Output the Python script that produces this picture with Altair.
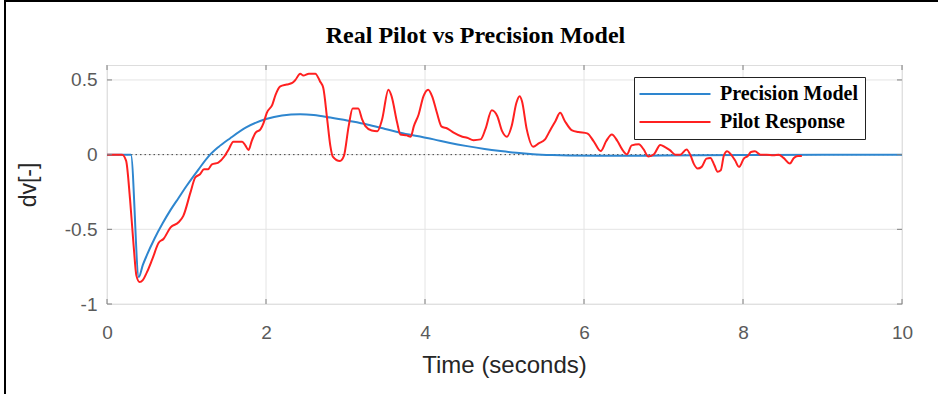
import altair as alt
import pandas as pd

# ---- data ----
model_t = [0, 0.30, 0.40, 0.45, 0.50, 0.60, 0.70, 0.80, 0.90, 1.00, 1.15, 1.28, 1.40, 1.55, 1.75, 2.00, 2.20,
           2.43, 2.60, 2.81, 3.05, 3.27, 3.50, 3.69, 3.90, 4.11, 4.30, 4.53, 4.75, 4.95, 5.15,
           5.36, 5.60, 5.80, 6.20, 7.00, 8.00, 9.00, 10.0]
model_v = [0, 0, -0.82, -0.74, -0.675, -0.56, -0.46, -0.37, -0.29, -0.21, -0.10, -0.01, 0.05, 0.11, 0.182, 0.238, 0.262,
           0.27, 0.265, 0.248, 0.225, 0.202, 0.172, 0.147, 0.124, 0.102, 0.08, 0.057, 0.038, 0.024, 0.012,
           0.003, -0.003, -0.006, -0.008, -0.006, -0.003, -0.001, 0.0]

pilot_t = [0, 0.19, 0.24, 0.29, 0.335, 0.37, 0.41, 0.45, 0.50, 0.57, 0.65, 0.71, 0.80, 0.90, 0.96,
           1.05, 1.11, 1.17, 1.22, 1.27, 1.32, 1.40, 1.48, 1.53, 1.59, 1.70, 1.74, 1.78, 1.82, 1.87,
           1.93, 1.97, 2.01, 2.08, 2.12, 2.18, 2.26, 2.33, 2.37, 2.43, 2.47, 2.54, 2.62, 2.68, 2.72,
           2.77, 2.81, 2.84, 2.93, 2.98, 3.04, 3.09, 3.16, 3.21, 3.25, 3.33, 3.40, 3.46, 3.54, 3.58,
           3.65, 3.69, 3.77, 3.82, 3.86, 3.92, 3.98, 4.04, 4.09, 4.15, 4.21, 4.28, 4.36, 4.47, 4.53,
           4.61, 4.70, 4.76, 4.84, 4.91, 4.97, 5.03, 5.09, 5.15, 5.19, 5.22, 5.28, 5.36, 5.43, 5.51,
           5.58, 5.64, 5.70, 5.76, 5.85, 5.93, 6.04, 6.12, 6.21, 6.28, 6.35, 6.42, 6.48, 6.54, 6.60,
           6.69, 6.75, 6.81, 6.88, 6.96, 7.02, 7.08, 7.15, 7.21, 7.29, 7.34, 7.38, 7.43, 7.48, 7.54,
           7.59, 7.64, 7.68, 7.72, 7.76, 7.80, 7.85, 7.90, 7.95, 8.01, 8.06, 8.10, 8.15, 8.22, 8.30,
           8.38, 8.45, 8.51, 8.59, 8.64, 8.69, 8.74]
pilot_v = [0, 0, -0.04, -0.30, -0.61, -0.81, -0.853, -0.84, -0.79, -0.70, -0.59, -0.565, -0.487, -0.453, -0.41,
           -0.253, -0.153, -0.131, -0.098, -0.098, -0.065, -0.053, -0.009, 0.035, 0.087, 0.087, 0.062, 0.031, 0.091, 0.147,
           0.169, 0.213, 0.28, 0.335, 0.40, 0.457, 0.469, 0.48, 0.50, 0.542, 0.529, 0.542, 0.542, 0.49, 0.447,
           0.235, 0.057, -0.013, -0.043, -0.009, 0.191, 0.309, 0.309, 0.235, 0.191, 0.162, 0.157, 0.235, 0.435, 0.39,
           0.213, 0.135, 0.129, 0.12, 0.191, 0.269, 0.39, 0.435, 0.39, 0.28, 0.187, 0.175, 0.147, 0.12, 0.113,
           0.097, 0.102, 0.17, 0.297, 0.257, 0.157, 0.12, 0.191, 0.347, 0.39, 0.357, 0.169, 0.053, 0.075, 0.102,
           0.169, 0.224, 0.28, 0.224, 0.162, 0.151, 0.142, 0.091, 0.024, 0.091, 0.135, 0.091, 0.035, 0.002, 0.062,
           0.069, 0.035, -0.013, 0.002, 0.065, 0.05, 0.03, 0.0, 0.0, 0.035, -0.005, -0.06, -0.093, -0.082, -0.027,
           -0.022, -0.071, -0.115, -0.105, -0.005, 0.022, 0.0, -0.038, -0.082, -0.027, -0.009, 0.018, 0.022, 0.0, 0.0,
           -0.005, 0.0, -0.022, -0.06, -0.022, -0.009, -0.009]

series_names = ["Precision Model", "Pilot Response"]
series_colors = ["#2e86cf", "#ff2020"]
x_ticks = [0, 2, 4, 6, 8, 10]
y_ticks = [-1, -0.5, 0, 0.5]
zero_level = [0]

W, H = 795, 239

model_df = pd.DataFrame({"t": model_t, "v": model_v, "series": series_names[0]})
pilot_df = pd.DataFrame({"t": pilot_t, "v": pilot_v, "series": series_names[1]})
xt = pd.DataFrame({"t": x_ticks})
yt = pd.DataFrame({"v": y_ticks})
zd = pd.DataFrame({"v": zero_level})
one = pd.DataFrame({"a": [0]})

xscale = alt.Scale(domain=[0, 10], nice=False, zero=False)
yscale = alt.Scale(domain=[-1, 0.6], nice=False, zero=False)

ax_x = alt.Axis(values=x_ticks, title="Time (seconds)", grid=False, ticks=False, tickSize=0,
                domain=False, labelPadding=34, labelBaseline="alphabetic", labelFontSize=19,
                labelFont="Liberation Sans", labelColor="#5a5a5a", titleFont="Liberation Sans",
                titleFontSize=24, titleFontWeight="normal", titleColor="#262626",
                titleX=397, titleY=68, titleBaseline="alphabetic", titleAlign="center",
                labelFlush=False, labelExpr="'' + datum.value")
ax_y = alt.Axis(values=y_ticks, title="dv[-]", grid=False, ticks=False, tickSize=0,
                domain=False, labelPadding=10, labelFontSize=19, labelFont="Liberation Sans",
                labelColor="#5a5a5a", titleFont="Liberation Sans", titleFontSize=23,
                titleFontWeight="normal", titleColor="#262626", titleX=-79, titleY=H / 2,
                titleAngle=-90, titleBaseline="middle", titleAlign="center", labelFlush=False,
                labelExpr="'' + datum.value")

X = alt.X("t:Q", scale=xscale, axis=ax_x)
Y = alt.Y("v:Q", scale=yscale, axis=ax_y)

grid_x = alt.Chart(xt).mark_rule(color="#e4e4e4", strokeWidth=1).encode(x=X)
grid_y = alt.Chart(yt).mark_rule(color="#e4e4e4", strokeWidth=1).encode(y=Y)

tick_col = "#808080"
tx_b = alt.Chart(xt).mark_rule(color=tick_col).encode(x=X, y=alt.value(H - 5), y2=alt.value(H))
tx_t = alt.Chart(xt).mark_rule(color=tick_col).encode(x=X, y=alt.value(0), y2=alt.value(5))
ty_l = alt.Chart(yt).mark_rule(color=tick_col).encode(y=Y, x=alt.value(0), x2=alt.value(5))
ty_r = alt.Chart(yt).mark_rule(color=tick_col).encode(y=Y, x=alt.value(W - 5), x2=alt.value(W))

zero_line = alt.Chart(zd).mark_rule(color="#444444", strokeWidth=1, strokeDash=[1.5, 3]).encode(y=Y)

color = alt.Color("series:N", scale=alt.Scale(domain=series_names, range=series_colors),
                  legend=alt.Legend(title=None, orient="none", legendX=527, legendY=12,
                                    direction="vertical", symbolType="M-4,0H4", symbolSize=315,
                                    symbolStrokeWidth=2, symbolOffset=24,
                                    labelFont="Liberation Serif",
                                    labelFontWeight="bold", labelFontSize=20, labelColor="black",
                                    strokeColor="#222222", fillColor="white", padding=7,
                                    rowPadding=8, labelOffset=35))

model_line = alt.Chart(model_df).mark_line(strokeWidth=2, interpolate="monotone").encode(
    x=X, y=Y, color=color)
pilot_line = alt.Chart(pilot_df).mark_line(strokeWidth=2, interpolate="monotone").encode(
    x=X, y=Y, color=color)

frame_l = alt.Chart(one).mark_rule(color="black", strokeWidth=2).encode(
    x=alt.value(-102), y=alt.value(-65), y2=alt.value(394 - 65))
frame_t = alt.Chart(one).mark_rule(color="black", strokeWidth=2).encode(
    y=alt.value(-64), x=alt.value(-103), x2=alt.value(938 - 107))

chart = alt.layer(
    grid_x, grid_y, zero_line, model_line, pilot_line, tx_b, tx_t, ty_l, ty_r, frame_l, frame_t
).properties(
    width=W, height=H,
    title=alt.TitleParams("Real Pilot vs Precision Model", font="Liberation Serif", fontSize=24,
                          fontWeight="bold", color="black", anchor="middle", frame="group",
                          dx=-29, dy=88, offset=20, baseline="alphabetic"),
    autosize=alt.AutoSizeParams(type="none"),
    padding={"left": 107, "top": 65, "right": 36, "bottom": 90},
).configure_view(stroke="#8c8c8c", strokeWidth=1).configure(background="white")

chart.save("out.html", embed_options={"renderer": "svg", "actions": False})
